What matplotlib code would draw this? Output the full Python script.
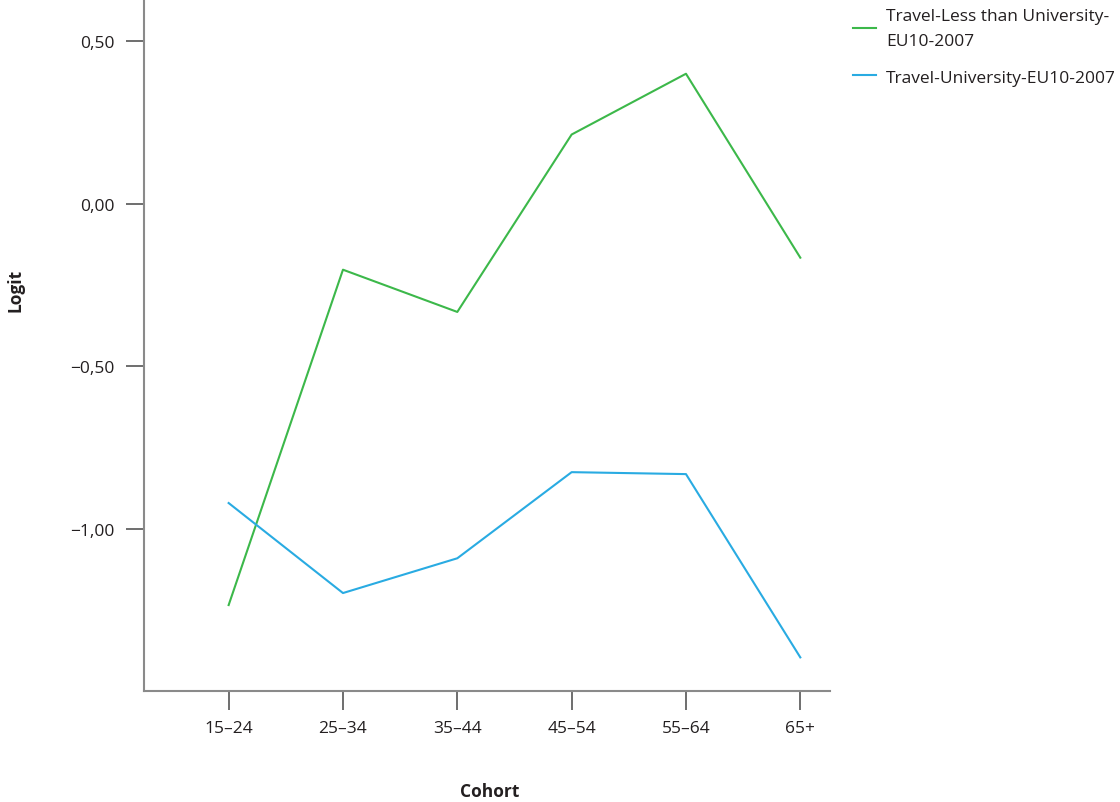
import matplotlib
matplotlib.use("Agg")
import matplotlib.pyplot as plt
from matplotlib.ticker import FuncFormatter

plt.rcParams['font.family'] = ['Open Sans', 'DejaVu Sans']

cohorts = ["15–24", "25–34", "35–44", "45–54", "55–64", "65+"]
less_than_uni = [-1.235, -0.203, -0.333, 0.213, 0.400, -0.166]
university = [-0.921, -1.198, -1.091, -0.826, -0.832, -1.396]
y_ticks = [-1.0, -0.5, 0.0, 0.5]

txt = "#231f20"
x = list(range(len(cohorts)))

fig = plt.figure(figsize=(11.2, 8.03), dpi=100)
ax = fig.add_axes([0.1286, 0.138, 0.6125, 0.862])

ax.plot(x, less_than_uni, color="#3cb84a", lw=1.5, label="Travel-Less than University-\nEU10-2007")
ax.plot(x, university, color="#29abe2", lw=1.5, label="Travel-University-EU10-2007")

ax.set_xlim(-0.74, 5.26)
ax.set_ylim(-1.50, 0.63)
ax.set_xticks(x)
ax.set_xticklabels(cohorts)
ax.set_yticks(y_ticks)

def fmt(v, pos):
    s = f"{abs(v):.2f}".replace(".", ",")
    return ("\u2212" + s) if v < 0 else s

ax.yaxis.set_major_formatter(FuncFormatter(fmt))

for s in ["top", "right"]:
    ax.spines[s].set_visible(False)
for s in ["left", "bottom"]:
    ax.spines[s].set_color("#8a8a8a")
    ax.spines[s].set_linewidth(1.5)

ax.tick_params(axis="y", length=13, width=1.2, color="#555555", pad=8, labelsize=12.5, labelcolor=txt)
ax.tick_params(axis="x", length=14, width=1.2, color="#555555", pad=7, labelsize=12.5, labelcolor=txt)

fig.text(15 / 1120, 1 - 290 / 803, "Logit", rotation=90, ha="center", va="center",
         fontsize=12.5, fontweight="bold", color=txt)
fig.text(490 / 1120, 1 - 792 / 803, "Cohort", ha="center", va="center",
         fontsize=12.5, fontweight="bold", color=txt)

leg = fig.legend(loc="upper left", bbox_to_anchor=(846 / 1120, 0.998), frameon=False,
                 borderaxespad=0, fontsize=12.5, handlelength=1.3, handletextpad=0.6,
                 labelspacing=1.2, labelcolor=txt)
for t in leg.get_texts():
    t.set_linespacing(1.75)

fig.savefig("out.png", dpi=100)
